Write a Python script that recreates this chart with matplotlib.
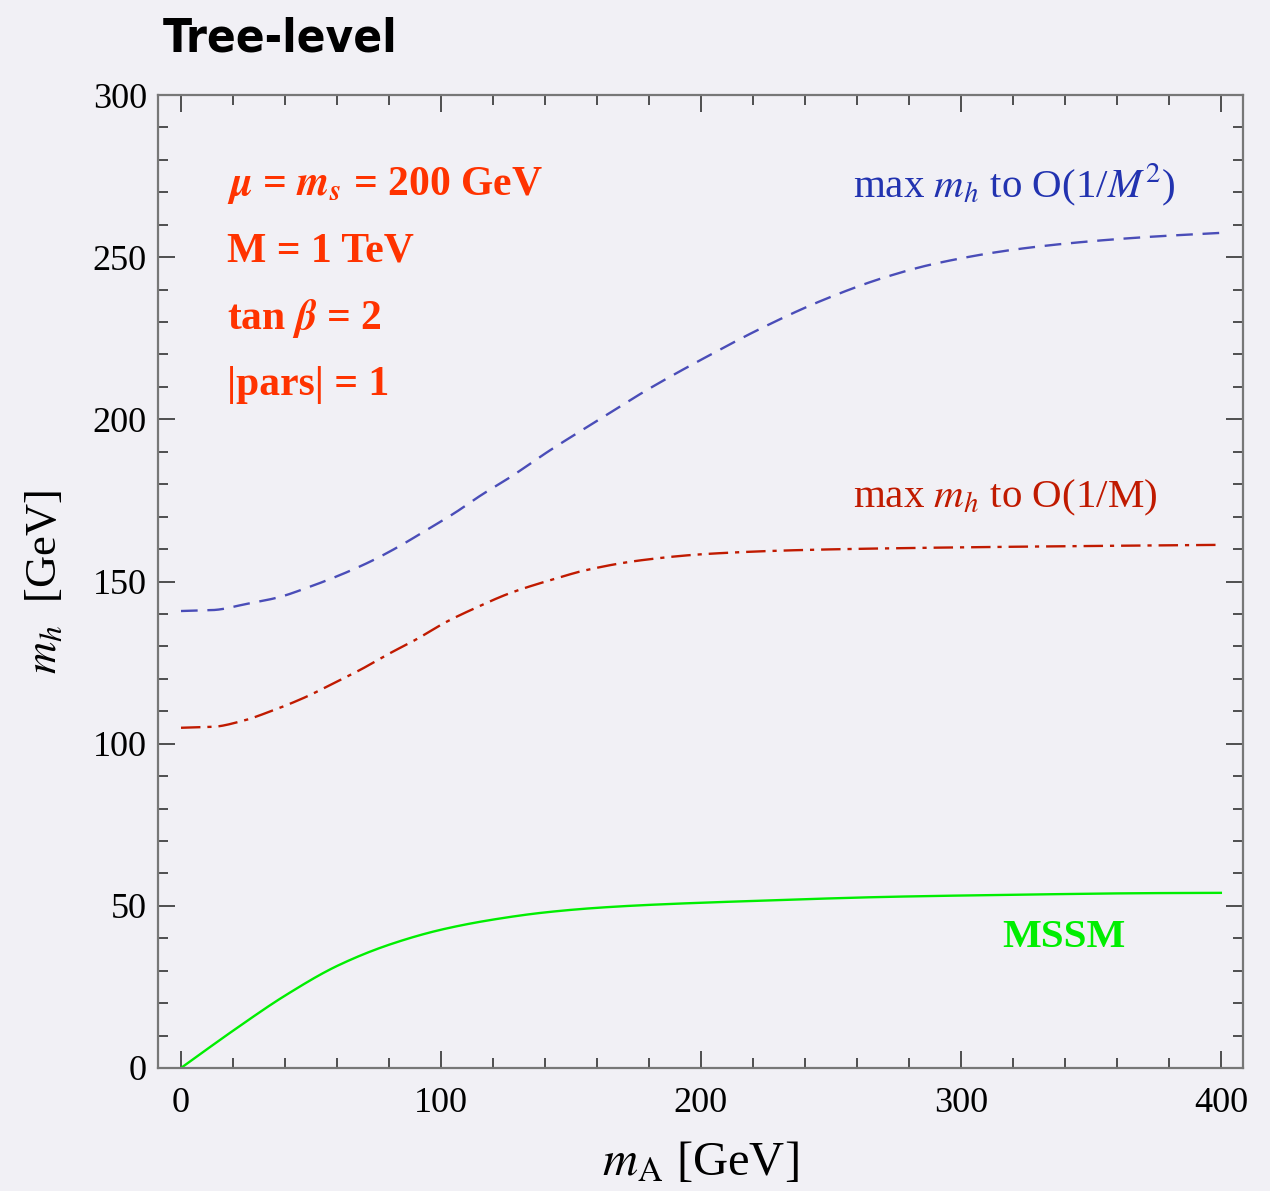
import matplotlib.pyplot as plt
from matplotlib.ticker import MultipleLocator
import numpy as np

plt.rcParams['font.family'] = ['Liberation Serif', 'DejaVu Serif']
plt.rcParams['mathtext.fontset'] = 'stix'
plt.rcParams['lines.scale_dashes'] = False

# sampled points of each m_h curve, (m_A, m_h) in GeV
ma_order2 = [0, 12.4, 25.3, 37.4, 49.6, 61.2, 72.7, 83.6, 94.5, 105.4, 115.6, 126.5,
             142.6, 158.6, 180.4, 202.2, 224, 247, 270, 290, 321, 347, 373, 400]
mh_order2 = [140.9, 141.2, 143.1, 145.1, 148.4, 152.0, 156.1, 160.7, 165.9, 171.2,
             176.7, 182.1, 190.8, 198.8, 209.6, 219.3, 228.4, 236.8, 243.6, 248.0,
             252.4, 254.7, 256.3, 257.5]

ma_order1 = [0, 12.4, 24, 34.2, 48.3, 58.6, 68.8, 80.4, 90.6, 102.2, 113.7, 126.5,
             145.8, 154.7, 176.5, 202.2, 234, 270, 330, 400]
mh_order1 = [104.9, 105.2, 107.1, 109.9, 114.5, 118.6, 122.7, 127.9, 132.2, 137.6,
             142.0, 146.4, 151.3, 153.3, 156.5, 158.5, 159.6, 160.2, 160.8, 161.3]

ma_mssm = [0, 20.4, 40.4, 60.4, 80.4, 100.4, 120.4, 140.4, 160.4, 180.4, 220,
           274, 320, 371, 400]
mh_mssm = [0.0, 11.7, 22.5, 31.6, 38.1, 42.7, 45.8, 48.0, 49.4, 50.3, 51.5,
           52.8, 53.4, 53.9, 54.0]

bg = '#f1f0f5'


def smooth(x, y, n=500):
    # monotone cubic through the sampled points
    x = np.asarray(x, float)
    y = np.asarray(y, float)
    h = np.diff(x)
    d = np.diff(y) / h
    m = np.zeros_like(y)
    m[0], m[-1] = d[0], d[-1]
    for i in range(1, len(x) - 1):
        if d[i - 1] * d[i] > 0:
            w1 = 2 * h[i] + h[i - 1]
            w2 = h[i] + 2 * h[i - 1]
            m[i] = (w1 + w2) / (w1 / d[i - 1] + w2 / d[i])
    xs = np.linspace(x[0], x[-1], n)
    k = np.clip(np.searchsorted(x, xs) - 1, 0, len(x) - 2)
    t = (xs - x[k]) / h[k]
    h00 = 2 * t**3 - 3 * t**2 + 1
    h10 = t**3 - 2 * t**2 + t
    h01 = -2 * t**3 + 3 * t**2
    h11 = t**3 - t**2
    ys = h00 * y[k] + h10 * h[k] * m[k] + h01 * y[k + 1] + h11 * h[k] * m[k + 1]
    return xs, ys


fig = plt.figure(figsize=(12.7, 11.91), dpi=100, facecolor=bg)
ax = fig.add_axes([0.1244, 0.1033, 0.8543, 0.8169], facecolor=bg)

x, y = smooth(ma_order2, mh_order2)
ax.plot(x, y, color='#4a4db8', lw=1.7, dashes=(12, 7))
x, y = smooth(ma_order1, mh_order1)
ax.plot(x, y, color='#c01a00', lw=1.7, dashes=(14, 5, 3, 5))
x, y = smooth(ma_mssm, mh_mssm)
ax.plot(x, y, color='#00ee00', lw=1.7)

ax.set_xlim(-8.85, 408.5)
ax.set_ylim(0, 300)
ax.xaxis.set_major_locator(MultipleLocator(100))
ax.xaxis.set_minor_locator(MultipleLocator(20))
ax.yaxis.set_major_locator(MultipleLocator(50))
ax.yaxis.set_minor_locator(MultipleLocator(10))
ax.tick_params(which='both', direction='in', top=True, right=True,
               color='#333333', width=1.2, labelsize=26, pad=8)
ax.tick_params(axis='x', which='major', pad=14)
ax.tick_params(which='major', length=12)
ax.tick_params(which='minor', length=7)
for s in ax.spines.values():
    s.set_color('#777777')
    s.set_linewidth(1.6)

ax.set_xlabel(r'$m_{\mathrm{A}}$ [GeV]', fontsize=35, labelpad=14)
ax.set_ylabel(r'$m_h$  [GeV]', fontsize=32, labelpad=20)

fig.text(0.128, 0.957, 'Tree-level', fontsize=34, fontweight='bold',
         family='DejaVu Sans', fontstretch='condensed', va='baseline')

red = '#ff3300'
info = [r'$\mathbfit{\mu}$ = $\mathbfit{m}_\mathbfit{s}$ = 200 GeV',
        'M = 1 TeV',
        r'tan $\mathbfit{\beta}$ = 2',
        '|pars| = 1']
for i, s in enumerate(info):
    ax.text(0.064, 0.897 - i * 0.0685, s, transform=ax.transAxes, fontsize=30,
            fontweight='bold', color=red, va='baseline')

ax.text(0.641, 0.908, r'max $m_h$ to O(1/$M^2$)', transform=ax.transAxes,
        fontsize=29.5, color='#2233b0', va='center')
ax.text(0.641, 0.586, r'max $m_h$ to O(1/M)', transform=ax.transAxes,
        fontsize=29.5, color='#c01a00', va='center')
ax.text(0.778, 0.134, 'MSSM', transform=ax.transAxes, fontsize=29.5,
        fontweight='bold', color='#00ee00', va='center')

fig.savefig('out.png', dpi=100, facecolor=bg)
